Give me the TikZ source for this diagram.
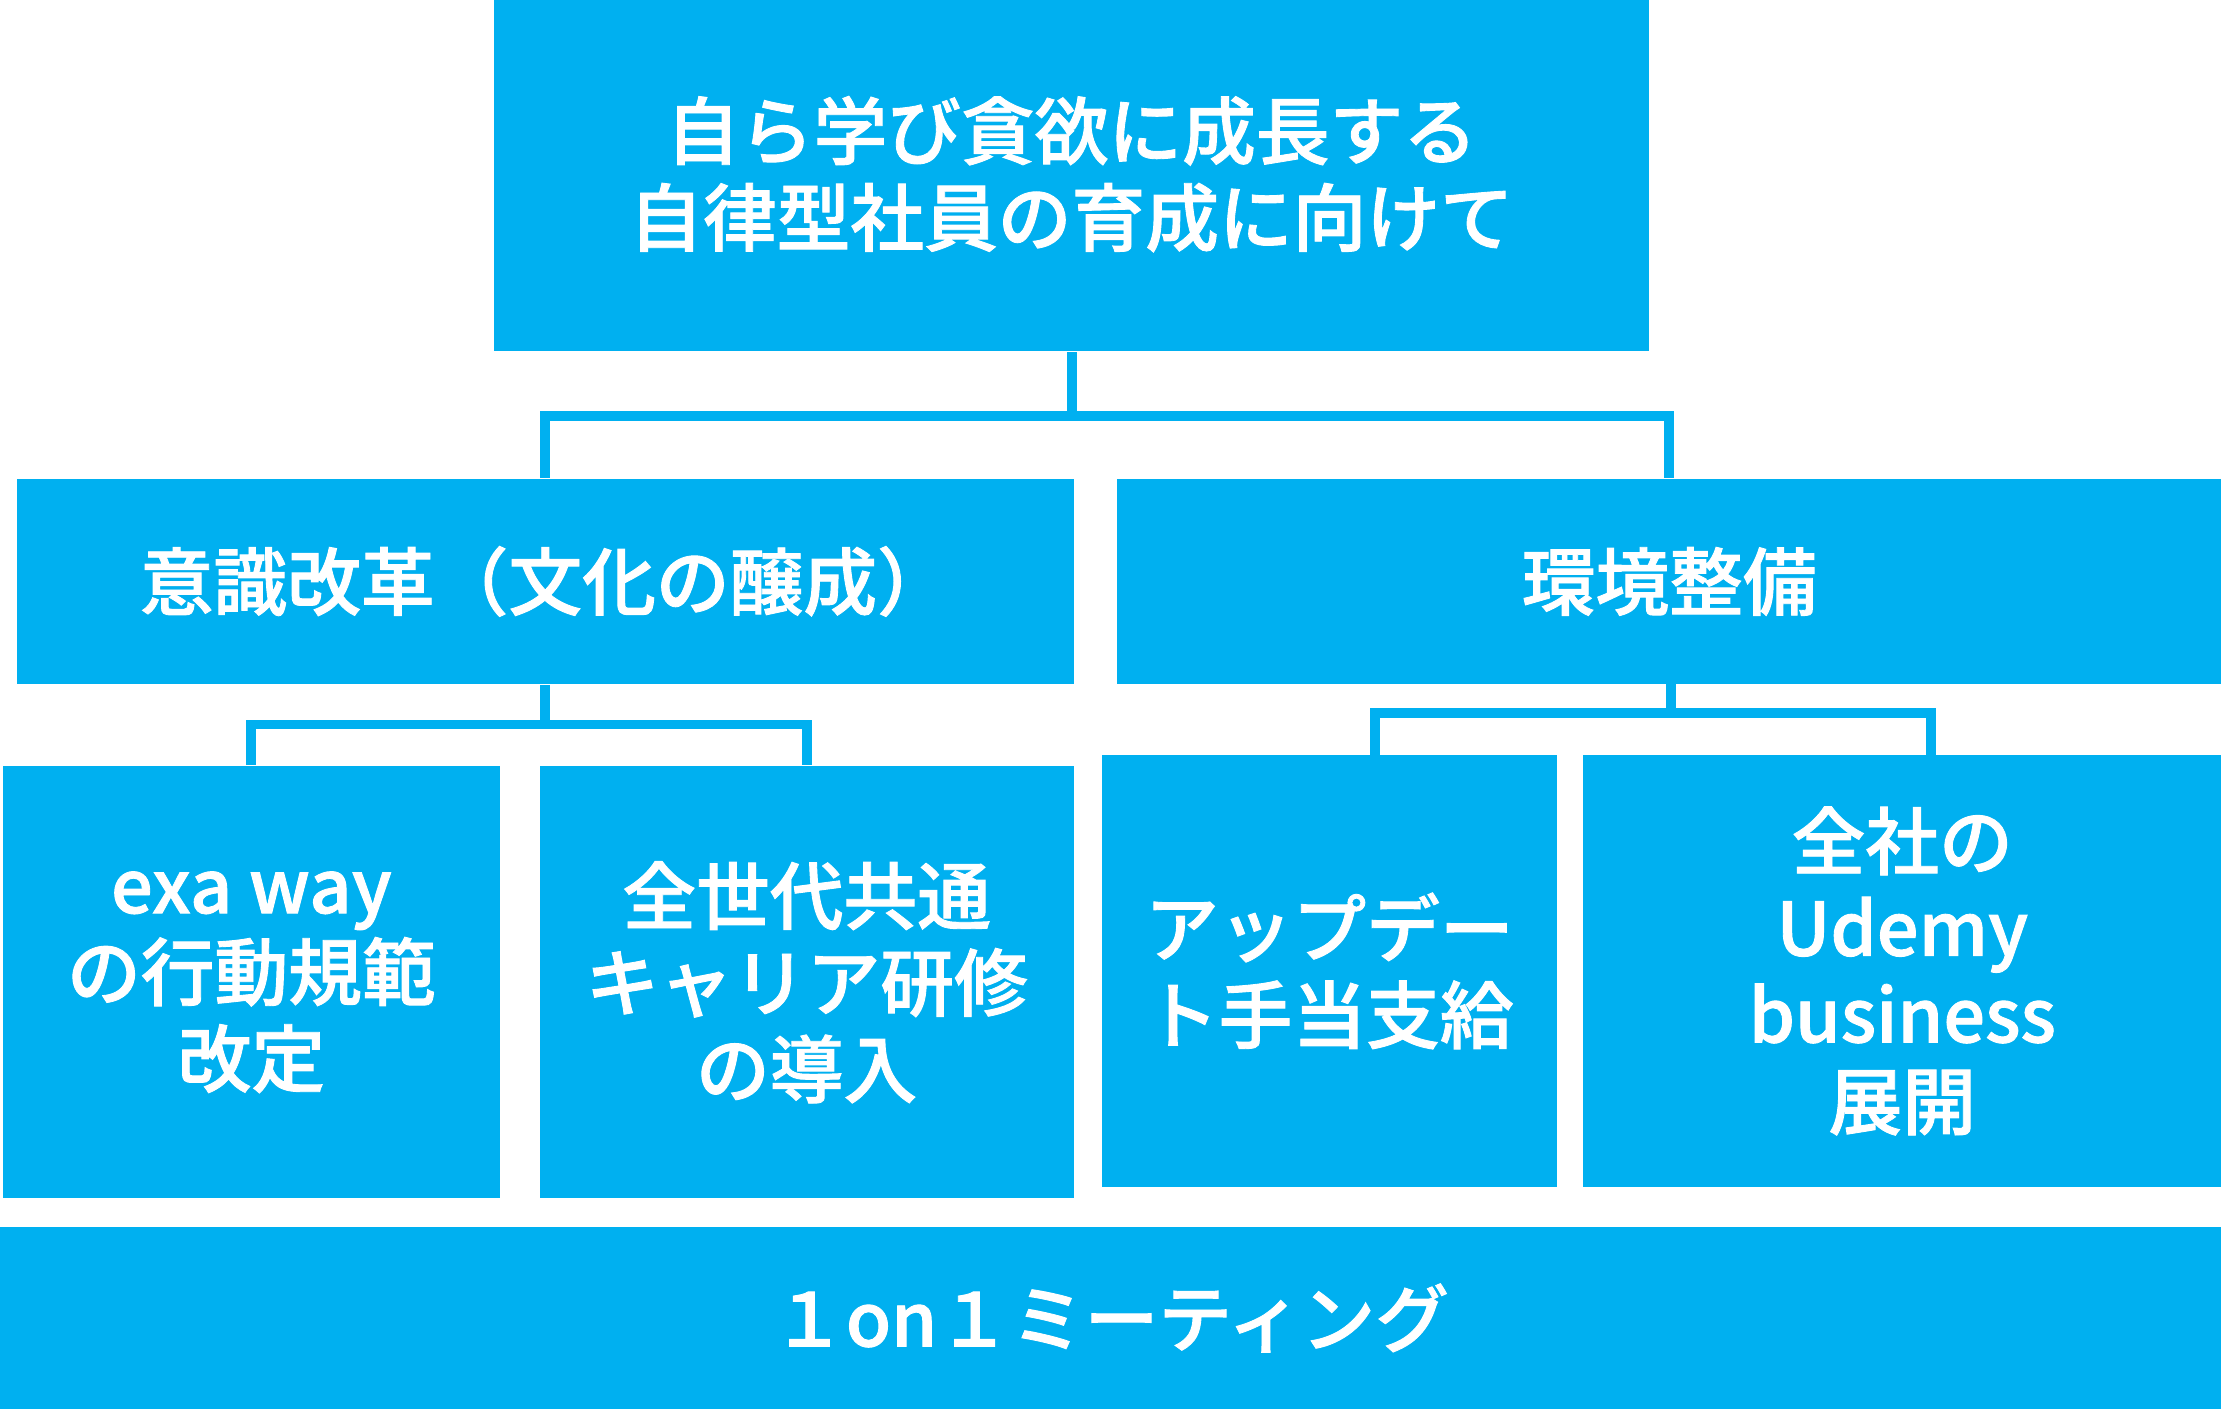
\documentclass[tikz,border=0pt]{standalone}
\usepackage{fontspec}
\IfFontExistsTF{Noto Sans CJK JP Medium}
  {\setmainfont{Noto Sans CJK JP Medium}[FakeBold=1.2]\newcommand\wgt{}}
  {\setmainfont{Noto Sans CJK JP}\newcommand\wgt{\bfseries}}
\definecolor{cblue}{HTML}{00B0F0}
\tikzset{
  box/.style={fill=cblue, text=white, inner sep=0pt, align=center,
    font=\wgt\fontsize{14.8pt}{17.4pt}\selectfont},
  conn/.style={draw=cblue, line width=2pt, line join=miter}
}
\begin{document}
\begin{tikzpicture}[x=0.01cm, y=-0.01cm]
\useasboundingbox (0,0) rectangle (1568,995);
% boxes
\node[box, minimum width=8.15cm, minimum height=2.50cm] (top) at (756.5,123)
  {自ら学び貪欲に成長する\\自律型社員の育成に向けて};
\node[box, minimum width=7.46cm, minimum height=1.45cm] (L) at (385,410.5)
  {意識改革（文化の醸成）};
\node[box, minimum width=7.79cm, minimum height=1.45cm] (R) at (1178.5,410.5)
  {環境整備};
\node[box, minimum width=3.51cm, minimum height=3.05cm] (BL1) at (177.5,693.5)
  {exa way\\の行動規範\\改定};
\node[box, minimum width=3.77cm, minimum height=3.05cm] (BL2) at (569.5,693.5)
  {全世代共通\\キャリア研修\\の導入};
\node[box, minimum width=3.21cm, minimum height=3.05cm] (BR1) at (938.5,685.5)
  {アップデー\\ト手当支給};
\node[box, minimum width=4.50cm, minimum height=3.05cm] (BR2) at (1343,685.5)
  {全社の\\Udemy\\business\\展開};
\node[box, minimum width=15.68cm, minimum height=1.29cm] (bar) at (784,930.5)
  {１on１ミーティング};
% connectors
\coordinate (j1) at (756.5,293.5);
\draw[conn] (top.south) -- (j1);
\draw[conn] (L.north) |- (j1) -| (R.north);
\coordinate (j2) at (385,511.5);
\draw[conn] (L.south) -- (j2);
\draw[conn] (BL1.north) |- (j2) -| (BL2.north);
\coordinate (j3) at (1180,503.5);
\coordinate (r3) at (1180,483);
\coordinate (k1) at (970.5,533);
\coordinate (k2) at (1363,533);
\draw[conn] (r3) -- (j3);
\draw[conn] (k1) |- (j3) -| (k2);
\end{tikzpicture}
\end{document}
